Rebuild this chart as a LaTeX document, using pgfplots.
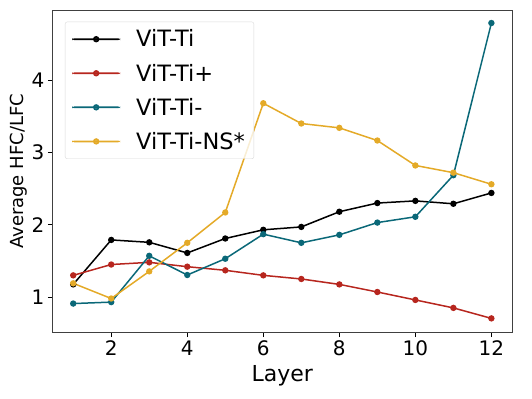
\documentclass[border=0pt]{standalone}
\usepackage{fontspec}
\setmainfont{DejaVu Sans}
\usepackage{pgfplots}
\pgfplotsset{compat=1.18}
\definecolor{cblack}{RGB}{0,0,0}
\definecolor{cred}{RGB}{183,38,30}
\definecolor{cteal}{RGB}{10,104,120}
\definecolor{cyell}{RGB}{228,170,40}
\begin{document}
\begin{tikzpicture}
\useasboundingbox (-52.3bp,-66.3bp) rectangle (479.7bp,332.7bp);
\begin{axis}[
  at={(0,0)}, anchor=south west,
  scale only axis, width=460bp, height=322.7bp,
  xmin=0.45, xmax=12.55, ymin=0.507, ymax=4.97,
  xtick={2,4,6,8,10,12}, ytick={1,2,3,4},
  tick align=outside, major tick length=4.5bp,
  xtick pos=bottom, ytick pos=left,
  axis line style={black!75, line width=0.8bp},
  tick style={black, line width=0.8bp},
  /pgf/number format/assume math mode=true,
  ticklabel style={font=\fontsize{20bp}{24bp}\selectfont},
  xlabel={Layer}, ylabel={Average HFC/LFC},
  xlabel style={font=\fontsize{22bp}{26bp}\selectfont, at={(axis description cs:0.5,-0.1333)}, anchor=center},
  ylabel style={font=\fontsize{18bp}{22bp}\selectfont, at={(axis description cs:-0.0739,0.5)}, anchor=center, rotate=0},
  every axis plot/.append style={line width=1.5bp, mark=*, mark size=2.4bp},
  legend style={at={(axis description cs:0.0276,0.9637)}, anchor=north west,
    draw=black!15, rounded corners=2bp, fill=white, fill opacity=0.8, text opacity=1,
    font=\fontsize{22.5bp}{26bp}\selectfont, row sep=11.5bp, inner xsep=7bp, inner ysep=6bp,
    cells={anchor=west}},
  legend image code/.code={%
    \fill[#1, draw=none, fill opacity=1] (0bp,-0.85bp) rectangle (48bp,0.85bp);
    \path[#1] plot coordinates {(24bp,0bp)};},
]
\addplot[color=cblack, mark options={fill=cblack}] coordinates {(1,1.175)(2,1.79)(3,1.757)(4,1.61)(5,1.81)(6,1.93)(7,1.97)(8,2.18)(9,2.30)(10,2.33)(11,2.29)(12,2.44)};
\addlegendentry{\hspace{14bp}ViT-Ti}
\addplot[color=cred, mark options={fill=cred}] coordinates {(1,1.30)(2,1.45)(3,1.48)(4,1.42)(5,1.37)(6,1.30)(7,1.25)(8,1.175)(9,1.07)(10,0.96)(11,0.85)(12,0.705)};
\addlegendentry{\hspace{14bp}ViT-Ti+}
\addplot[color=cteal, mark options={fill=cteal}] coordinates {(1,0.91)(2,0.93)(3,1.57)(4,1.305)(5,1.53)(6,1.87)(7,1.75)(8,1.86)(9,2.03)(10,2.11)(11,2.685)(12,4.79)};
\addlegendentry{\hspace{14bp}ViT-Ti-}
\addplot[color=cyell, mark options={fill=cyell}] coordinates {(1,1.19)(2,0.98)(3,1.355)(4,1.75)(5,2.17)(6,3.68)(7,3.40)(8,3.34)(9,3.165)(10,2.82)(11,2.72)(12,2.56)};
\addlegendentry{\hspace{14bp}ViT-Ti-NS*}
\end{axis}
\end{tikzpicture}
\end{document}
